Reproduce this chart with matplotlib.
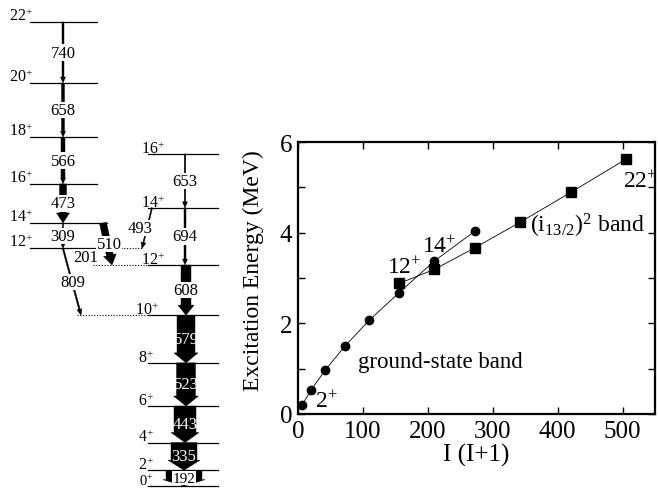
import matplotlib
matplotlib.use('Agg')
import matplotlib.pyplot as plt
from matplotlib.patches import Polygon
import numpy as np

plt.rcParams['font.family'] = ['Liberation Serif', 'DejaVu Serif']
plt.rcParams['mathtext.fontset'] = 'custom'
plt.rcParams['mathtext.rm'] = 'Liberation Serif'
plt.rcParams['mathtext.it'] = 'Liberation Serif:italic'
plt.rcParams['mathtext.bf'] = 'Liberation Serif:bold'

# ---------------- data ----------------
# ground-state band (right column of level scheme), keV
gsb_spins = [0, 2, 4, 6, 8, 10, 12, 14, 16]
gsb_energies = [0, 192, 527, 970, 1493, 2072, 2680, 3374, 4027]
# (i13/2)^2 band (left column of level scheme), keV
sb_spins = [12, 14, 16, 18, 20, 22]
sb_energies = [2881, 3190, 3663, 4229, 4887, 5627]

# transitions: label, from (band, spin), to (band, spin), relative intensity
tr_labels = ['740', '658', '566', '473', '309', '510', '201', '809', '493',
             '653', '694', '608', '579', '523', '443', '335', '192']
tr_from = [('s', 22), ('s', 20), ('s', 18), ('s', 16), ('s', 14), ('s', 14), ('s', 12), ('s', 12), ('g', 14),
           ('g', 16), ('g', 14), ('g', 12), ('g', 10), ('g', 8), ('g', 6), ('g', 4), ('g', 2)]
tr_to = [('s', 20), ('s', 18), ('s', 16), ('s', 14), ('s', 12), ('g', 12), ('g', 12), ('g', 10), ('s', 12),
         ('g', 14), ('g', 12), ('g', 10), ('g', 8), ('g', 6), ('g', 4), ('g', 2), ('g', 0)]
tr_intensity = [2, 3, 4, 7, 1.2, 7, 1, 1.5, 1.2, 1.5, 2, 10, 18, 19, 22, 26, 36]

# E vs I(I+1) plot (MeV)
gsb_plot_spins = [2, 4, 6, 8, 10, 12, 14, 16]
gsb_plot_E = [0.192, 0.527, 0.970, 1.493, 2.072, 2.680, 3.374, 4.027]
sb_plot_spins = [12, 14, 16, 18, 20, 22]
sb_plot_E = [2.881, 3.190, 3.663, 4.229, 4.887, 5.627]

xticks = [0, 100, 200, 300, 400, 500]
yticks = [0, 2, 4, 6]

# ---------------- figure ----------------
W, H = 658, 489
fig = plt.figure(figsize=(W / 100, H / 100), dpi=100)

# ---- level scheme axes: x in pixel-like units, y in keV ----
s = 0.08246  # px per keV
axL = fig.add_axes([0, 0, 250 / W, 1])
axL.set_xlim(0, 250)
axL.set_ylim(-2 / s, 487 / s)
axL.axis('off')

levels = {}
for sp, e in zip(gsb_spins, gsb_energies):
    levels[('g', sp)] = e
for sp, e in zip(sb_spins, sb_energies):
    levels[('s', sp)] = e

LFS = 12      # transition labels
VFS = 11.5    # level labels
# level lines
for sp, e in zip(sb_spins, sb_energies):
    x1 = 107 if sp == 14 else 97
    axL.plot([30, x1], [e, e], color='black', lw=0.9, zorder=3)
    axL.text(33, e + 2 / s, f'{sp}$^{{+}}$', ha='right', va='baseline', fontsize=VFS, zorder=5)
for sp, e in zip(gsb_spins, gsb_energies):
    axL.plot([148, 218], [e, e], color='black', lw=0.9, zorder=3)
    xr = 165 if sp >= 12 else (159 if sp == 10 else 154)
    fs = VFS if sp > 0 else 10.5
    axL.text(xr, e + 1.2 / s, f'{sp}$^{{+}}$', ha='right', va='baseline', fontsize=fs, zorder=5)

# dotted connector lines
e12g = levels[('g', 12)]
e12s = levels[('s', 12)]
e10g = levels[('g', 10)]
axL.plot([93, 148], [e12g, e12g], ls=(0, (1, 1.5)), color='black', lw=0.8)
axL.plot([121, 143], [e12s, e12s], ls=(0, (1, 1.5)), color='black', lw=0.8)
axL.plot([77, 148], [e10g, e10g], ls=(0, (1, 1.5)), color='black', lw=0.8)

# geometry of transitions (x start, x end, label x)
geom = {
    '740': (63, 63, 63), '658': (63, 63, 63), '566': (63, 63, 63), '473': (63, 63, 63),
    '309': (63, 63, 63), '510': (103, 112, 109), '201': (96, 96, 86), '809': (63, 81, 73),
    '493': (152, 142, 140), '653': (185, 185, 185), '694': (185, 185, 185),
    '608': (186, 186, 186), '579': (186, 186, 186), '523': (186, 186, 186),
    '443': (185, 185, 185), '335': (184, 184, 184), '192': (184, 184, 184),
}
white_labels = {'579', '523', '443', '335'}


def draw_arrow(ax, x0, e0, x1, e1, w):
    p0 = np.array([x0, e0 * s])
    p1 = np.array([x1, e1 * s])
    d = p1 - p0
    L = np.hypot(*d)
    d = d / L
    n = np.array([-d[1], d[0]])
    if w < 5:
        hw, hl = 5.0, 6.0
    else:
        hw, hl = w + 6, 10.0
    hl = min(hl, 0.4 * L)
    base = p1 - hl * d
    pts = [p0 + n * w / 2, base + n * w / 2, base + n * hw / 2, p1,
           base - n * hw / 2, base - n * w / 2, p0 - n * w / 2]
    pts = [(q[0], q[1] / s) for q in pts]
    ax.add_patch(Polygon(pts, closed=True, facecolor='black', edgecolor='black', lw=0.3, zorder=2))


for lab, f, t, inten in zip(tr_labels, tr_from, tr_to, tr_intensity):
    e0 = levels[f]
    e1 = levels[t]
    x0, x1, xl = geom[lab]
    draw_arrow(axL, x0, e0, x1, e1, inten)
    ym = (e0 + e1) / 2
    if lab in white_labels:
        axL.text(xl, ym, lab, ha='center', va='center', fontsize=LFS, color='white', zorder=6)
    else:
        fs = LFS if lab != '192' else 11
        axL.text(xl, ym, lab, ha='center', va='center', fontsize=fs, color='black', zorder=6,
                 bbox=dict(facecolor='white', edgecolor='none', pad=0.1))

# ---- E vs I(I+1) axes ----
ax = fig.add_axes([298 / W, 74 / H, 357 / W, 272 / H])
gx = [i * (i + 1) for i in gsb_plot_spins]
sx = [i * (i + 1) for i in sb_plot_spins]
ax.plot(gx, gsb_plot_E, '-o', color='black', lw=0.6, ms=6, mfc='black', zorder=3)
ax.plot(sx, sb_plot_E, '-s', color='black', lw=0.6, ms=6.5, mfc='black', zorder=3)
ax.set_xlim(0, 550)
ax.set_ylim(0, 6)
ax.set_xticks(xticks)
ax.set_yticks(yticks)
ax.set_yticks([1, 3, 5], minor=True)
ax.tick_params(which='both', direction='in', top=True, right=True, length=5, width=1,
               labelsize=18, pad=4)
for sp in ax.spines.values():
    sp.set_linewidth(1.6)
ax.set_xlabel('I (I+1)', fontsize=18, labelpad=1)
ax.set_ylabel('Excitation Energy (MeV)', fontsize=17, labelpad=4)
ax.yaxis.set_label_coords(-0.095, 0.53)

ax.text(26, 0.15, '2$^{+}$', fontsize=17, va='baseline')
ax.text(137, 3.12, '12$^{+}$', fontsize=17, va='baseline')
ax.text(191, 3.58, '14$^{+}$', fontsize=17, va='baseline')
ax.text(358, 4.02, '(i$_{13/2}$)$^{2}$ band', fontsize=17, va='baseline')
ax.text(500, 5.01, '22$^{+}$', fontsize=17, va='baseline')
ax.text(93, 1.03, 'ground-state band', fontsize=16.5, va='baseline')

fig.savefig('out.png', dpi=100)
